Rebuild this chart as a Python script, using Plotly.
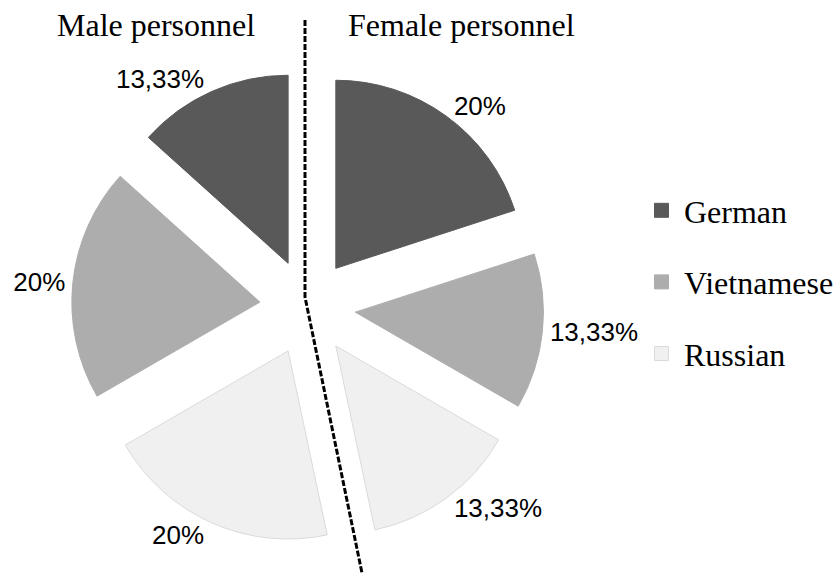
import plotly.graph_objects as go

# ---- data ----
slice_labels = ["Female German", "Female Vietnamese", "Female Russian",
                "Male Russian", "Male Vietnamese", "Male German"]
slice_values = [20.0, 13.33, 13.33, 20.0, 20.0, 13.33]
slice_text = ["20%", "13,33%", "13,33%", "20%", "20%", "13,33%"]
slice_group = ["German", "Vietnamese", "Russian", "Russian", "Vietnamese", "German"]

groups = ["German", "Vietnamese", "Russian"]
group_titles = ["Male personnel", "Female personnel"]

# ---- styles ----
fill = {"German": "#595959", "Vietnamese": "#adadad", "Russian": "#f0f0f0"}
edge = {"German": "#595959", "Vietnamese": "#adadad", "Russian": "#dadada"}
SERIF = "Liberation Serif"
SANS = "Liberation Sans"

fig = go.Figure()

fig.add_trace(go.Pie(
    labels=slice_labels,
    values=slice_values,
    text=slice_text,
    textinfo="text",
    textposition="outside",
    textfont=dict(family=SANS, size=26, color="#000000"),
    sort=False,
    direction="clockwise",
    rotation=0,
    pull=[0.255] * len(slice_values),
    marker=dict(colors=[fill[g] for g in slice_group],
                line=dict(color=[edge[g] for g in slice_group], width=1)),
    domain=dict(x=[0.0853, 0.648], y=[0.052, 0.876]),
    showlegend=False,
    hoverinfo="label+text",
))

for g in groups:
    fig.add_trace(go.Scatter(
        x=[None], y=[None], mode="markers", name=g, legendgroup=g,
        marker=dict(symbol="square", size=14, color=fill[g],
                    line=dict(color=edge[g], width=1)),
    ))

# titles
fig.add_annotation(text=group_titles[0], x=156 / 839, y=1 - 25 / 573,
                   xref="paper", yref="paper", showarrow=False,
                   xanchor="center", yanchor="middle",
                   font=dict(family=SERIF, size=32, color="#000000"))
fig.add_annotation(text=group_titles[1], x=461 / 839, y=1 - 25 / 573,
                   xref="paper", yref="paper", showarrow=False,
                   xanchor="center", yanchor="middle",
                   font=dict(family=SERIF, size=32, color="#000000"))

# dashed divider
p = [(305 / 839, 1 - 20 / 573), (305 / 839, 1 - 297 / 573), (362 / 839, 0.0)]
fig.add_shape(type="path", xref="paper", yref="paper",
              path=f"M {p[0][0]},{p[0][1]} L {p[1][0]},{p[1][1]} L {p[2][0]},{p[2][1]}",
              line=dict(color="#000000", width=3, dash="6px,2px"))

fig.update_layout(
    width=839, height=573,
    margin=dict(l=0, r=0, t=0, b=0, autoexpand=False),
    paper_bgcolor="#ffffff", plot_bgcolor="#ffffff",
    xaxis=dict(visible=False), yaxis=dict(visible=False),
    legend=dict(x=639 / 839, y=1 - 183 / 573, xanchor="left", yanchor="top",
                font=dict(family=SERIF, size=32, color="#000000"),
                traceorder="grouped", tracegroupgap=27, itemwidth=35,
                bgcolor="rgba(0,0,0,0)"),
)

fig.write_html("out.html", config={"displayModeBar": False},
               post_script="document.body.style.margin='0';")
